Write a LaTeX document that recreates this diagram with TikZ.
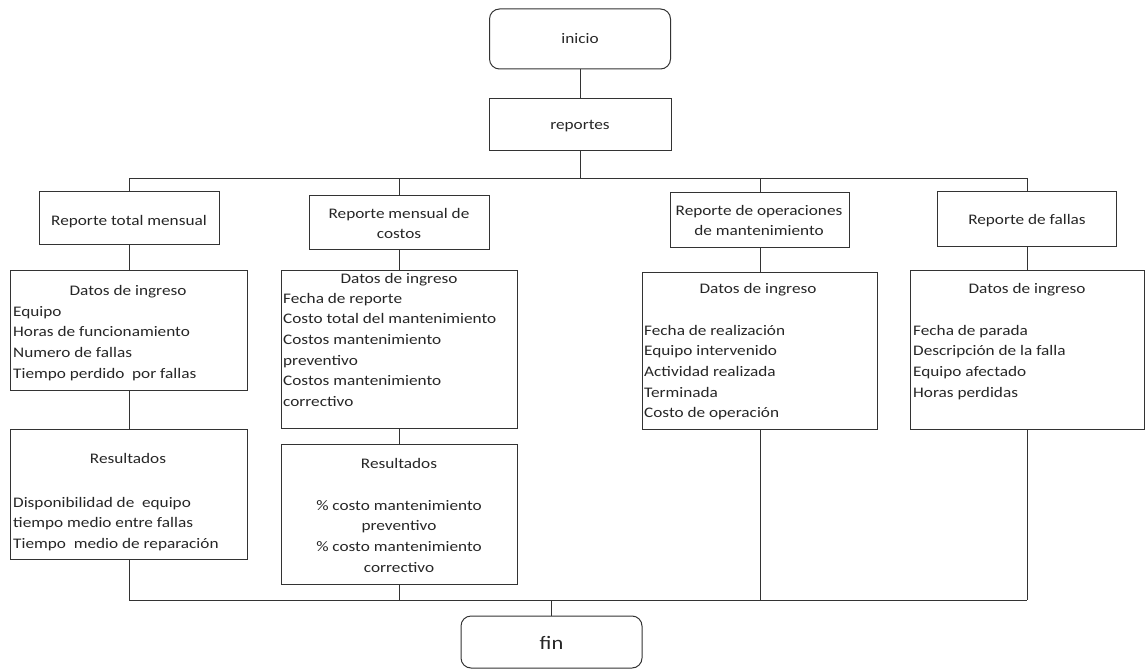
\documentclass[tikz,border=0pt]{standalone}
\usepackage{fontspec}
\setmainfont{Carlito}[FakeStretch=1.18]
\begin{document}
\begin{tikzpicture}[x=1pt,y=-1pt,
  conn/.style={draw=black!80, line width=1pt},
  box/.style={draw=black!80, line width=1pt, rectangle, inner sep=0pt, outer sep=0pt},
  term/.style={box, rounded corners=10pt},
  txt/.style={inner sep=0pt, text=black!85, font=\fontsize{14.6}{20.7}\selectfont},
  list/.style={txt, align=left, anchor=base west},
  ctr/.style={txt, align=center, anchor=base},
]
\path[use as bounding box] (0,0) rectangle (1147,671);

% terminals and top level
\node[term, minimum width=181pt, minimum height=60pt] (inicio) at (580,39) {};
\node[box, minimum width=182pt, minimum height=52pt] (reportes) at (580,125) {};
\node[term, minimum width=181pt, minimum height=52pt] (fin) at (551.5,642) {};

% report headers
\node[box, minimum width=180pt, minimum height=53pt] (r1) at (129,217.5) {};
\node[box, minimum width=180pt, minimum height=54pt] (r2) at (399,222) {};
\node[box, minimum width=179pt, minimum height=55pt] (r3) at (760,219.5) {};
\node[box, minimum width=179pt, minimum height=55pt] (r4) at (1027,218.5) {};

% input data boxes
\node[box, minimum width=237pt, minimum height=120pt] (d1) at (128.5,330) {};
\node[box, minimum width=236pt, minimum height=158pt] (d2) at (399,349) {};
\node[box, minimum width=235pt, minimum height=157pt] (d3) at (759.5,350.5) {};
\node[box, minimum width=234pt, minimum height=159pt] (d4) at (1027,349.5) {};

% result boxes
\node[box, minimum width=237pt, minimum height=130pt] (res1) at (128.5,494) {};
\node[box, minimum width=236pt, minimum height=140pt] (res2) at (399,514) {};

% bus lines
\coordinate (topL) at (129,178);
\coordinate (topR) at (1027,178);
\coordinate (botL) at (129,600);
\coordinate (botR) at (1027,600);

\draw[conn] (inicio.south) -- (reportes.north);
\draw[conn] (reportes.south) -- (reportes.south |- topL);
\draw[conn] (topL) -- (topR);
\draw[conn] (r1.north) -- (r1.north |- topL);
\draw[conn] (r2.north) -- (r2.north |- topL);
\draw[conn] (r3.north) -- (r3.north |- topL);
\draw[conn] (r4.north) -- (r4.north |- topL);

\draw[conn] (r1.south) -- (r1.south |- d1.north);
\draw[conn] (r2.south) -- (r2.south |- d2.north);
\draw[conn] (r3.south) -- (r3.south |- d3.north);
\draw[conn] (r4.south) -- (r4.south |- d4.north);

\draw[conn] (d1.south -| r1.south) -- (res1.north -| r1.south);
\draw[conn] (d2.south -| r2.south) -- (res2.north -| r2.south);

\draw[conn] (res1.south -| r1.south) -- (botL);
\draw[conn] (res2.south -| r2.south) -- (r2.south |- botL);
\draw[conn] (d3.south -| r3.south) -- (r3.south |- botL);
\draw[conn] (d4.south -| r4.south) -- (botR);
\draw[conn] (botL) -- (botR);
\draw[conn] (fin.north |- botL) -- (fin.north);

% texts (multi-line nodes are anchored at the baseline of their last line)
\node[ctr] (tinicio) at (580,44) {inicio};
\node[ctr] (treportes) at (580,130) {reportes};
\node[txt, anchor=base, font=\fontsize{19}{22}\selectfont] (tfin) at (551.5,649) {fin};

\node[ctr] (tr1) at (129,225) {Reporte total mensual};
\node[ctr] (tr2) at (399,238.7) {Reporte mensual de\\costos};
\node[ctr] (tr3) at (759,235.7) {Reporte de operaciones\\de mantenimiento};
\node[ctr] (tr4) at (1027,224) {Reporte de fallas};

\node[ctr] (td1) at (128,295) {Datos de ingreso};
\node[list] (ld1) at (13,378.1) {Equipo\\Horas de funcionamiento\\Numero de fallas\\Tiempo perdido~ por fallas};
\node[ctr] (tres1) at (128,463) {Resultados};
\node[list] (lres1) at (13,548.4) {Disponibilidad de~ equipo\\tiempo medio entre fallas\\Tiempo~ medio de reparación};

\node[ctr] (td2) at (399,283) {Datos de ingreso};
\node[list] (ld2) at (283,406.5) {Fecha de reporte\\Costo total del mantenimiento\\Costos mantenimiento\\preventivo\\Costos mantenimiento\\correctivo};
\node[ctr] (tres2) at (399,468) {Resultados};
\node[ctr] (lres2) at (399,572.1) {\% costo mantenimiento\\preventivo\\\% costo mantenimiento\\correctivo};

\node[ctr] (td3) at (758,293) {Datos de ingreso};
\node[list] (ld3) at (644,417.8) {Fecha de realización\\Equipo intervenido\\Actividad realizada\\Terminada\\Costo de operación};

\node[ctr] (td4) at (1027,293) {Datos de ingreso};
\node[list] (ld4) at (913,397.1) {Fecha de parada\\Descripción de la falla\\Equipo afectado\\Horas perdidas};
\end{tikzpicture}
\end{document}
